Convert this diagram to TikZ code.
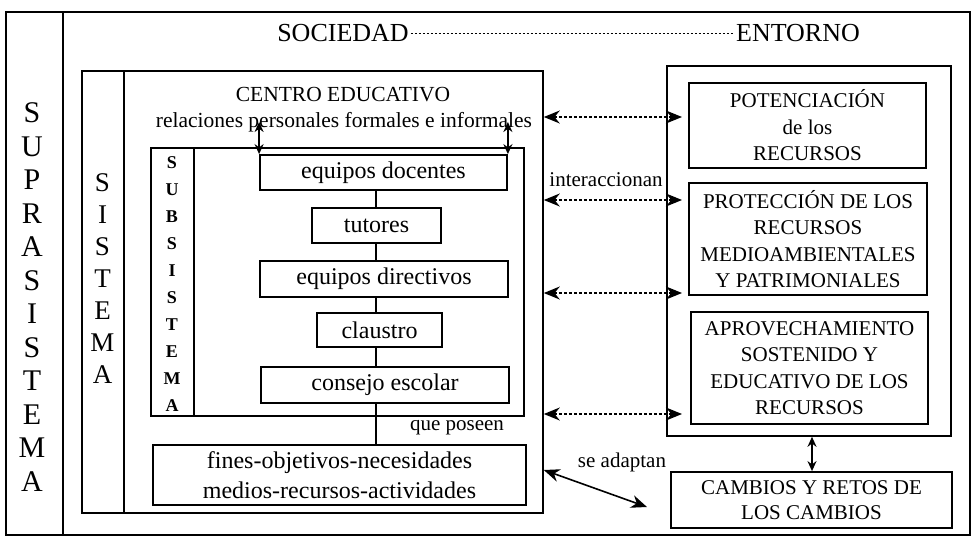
\documentclass[tikz,border=0pt]{standalone}
\usepackage{fontspec}
\setmainfont{Liberation Serif}
\usetikzlibrary{arrows.meta,positioning}

\tikzset{
  box/.style={draw, line width=1.8pt, fill=white, align=center, inner sep=1pt,
    font=\fontsize{24}{29}\selectfont},
  capsbox/.style={box, font=\fontsize{21}{26.5}\selectfont},
  frame/.style={draw, line width=1.8pt, inner sep=0pt, anchor=north west},
  link/.style={line width=1.8pt},
  twoway/.style={line width=1.9pt, {Stealth[length=10pt,width=9pt]}-{Stealth[length=10pt,width=9pt]}},
  bigway/.style={line width=1.6pt, {Stealth[length=16pt,width=13pt]}-{Stealth[length=16pt,width=13pt]}},
  dotway/.style={bigway, dash pattern=on 3pt off 2pt},
  tag/.style={font=\fontsize{21}{25}\selectfont, inner sep=1pt},
  column/.style={align=center, inner sep=0pt}
}

\begin{document}
\begin{tikzpicture}[x=1pt,y=-1pt]
\useasboundingbox (0,0) rectangle (975,539);

% frames
\node[frame, minimum width=964pt, minimum height=523pt] (supra) at (5,11) {};
\node[frame, minimum width=461pt, minimum height=442pt] (sistema) at (81,70) {};
\node[frame, minimum width=373pt, minimum height=268pt] (subsis) at (150,147) {};
\node[frame, minimum width=284pt, minimum height=370pt] (entorno) at (666,65) {};
\coordinate (cutA) at (63,0);
\coordinate (cutB) at (124,0);
\coordinate (cutC) at (194,0);
\draw[link] (cutA |- supra.north) -- (cutA |- supra.south);
\draw[link] (cutB |- sistema.north) -- (cutB |- sistema.south);
\draw[link] (cutC |- subsis.north) -- (cutC |- subsis.south);

% vertical words
\node[column, font=\fontsize{30}{33.5}\selectfont] (supraword) at (32,297)
  {S\\U\\P\\R\\A\\S\\I\\S\\T\\E\\M\\A};
\node[column, font=\fontsize{27}{32}\selectfont] (sistword) at (102.5,279)
  {S\\I\\S\\T\\E\\M\\A};
\node[column, font=\fontsize{18}{26.9}\selectfont\bfseries] (subword) at (172,284)
  {S\\U\\B\\S\\I\\S\\T\\E\\M\\A};

% top row
\node[font=\fontsize{26}{30}\selectfont, inner sep=2pt] (sociedad) at (343,33) {SOCIEDAD};
\node[font=\fontsize{26}{30}\selectfont, inner sep=2pt] (entornoword) at (798,33) {ENTORNO};
\draw[line width=0.9pt, dash pattern=on 2.5pt off 1.5pt] (sociedad.east) -- (entornoword.west);

% centro educativo
\node[font=\fontsize{21.5}{26}\selectfont] (centro) at (343,95) {CENTRO EDUCATIVO};
\node[font=\fontsize{21.5}{26}\selectfont, inner sep=0pt] (rel) at (344,122)
  {relaciones personales formales e informales};

\node[box, minimum width=247pt, minimum height=35pt] (docentes) at (383.5,172.5) {equipos docentes};
\node[box, minimum width=129pt, minimum height=35pt] (tutores) at (376.5,225.5) {tutores};
\node[box, minimum width=248pt, minimum height=36pt] (directivos) at (384,279) {equipos directivos};
\node[box, minimum width=125pt, minimum height=34pt] (claustro) at (379.5,330) {claustro};
\node[box, minimum width=248pt, minimum height=36pt] (consejo) at (385,385) {consejo escolar};
\node[box, minimum width=373pt, minimum height=60pt, font=\fontsize{24}{30}\selectfont] (fines)
  at (339.5,475) {fines-objetivos-necesidades\\medios-recursos-actividades};

\coordinate (spine) at (376,0);
\foreach \a/\b in {docentes/tutores,tutores/directivos,directivos/claustro,claustro/consejo,consejo/fines}
  \draw[link] (\a.south -| spine) -- (\b.north -| spine);

\draw[twoway] (docentes.north west) -- (docentes.north west |- rel.center);
\draw[twoway] (docentes.north east) -- (docentes.north east |- rel.center);

\node[tag] (quepos) at (457,428) {que poseen};

% entorno
\node[capsbox, minimum width=237pt, minimum height=85pt] (pot) at (807.5,125.5)
  {POTENCIACIÓN\\de los\\RECURSOS};
\node[capsbox, minimum width=238pt, minimum height=112pt] (prot) at (808,239)
  {PROTECCIÓN DE LOS\\RECURSOS\\MEDIOAMBIENTALES\\Y PATRIMONIALES};
\node[capsbox, minimum width=237pt, minimum height=112pt] (apro) at (809.5,368)
  {APROVECHAMIENTO\\SOSTENIDO Y\\EDUCATIVO DE LOS\\RECURSOS};
\node[capsbox, minimum width=281pt, minimum height=56pt, font=\fontsize{21}{25}\selectfont] (cambios)
  at (811.5,500) {CAMBIOS Y RETOS DE\\LOS CAMBIOS};

\coordinate (drop) at (812,0);
\draw[twoway] (entorno.south -| drop) -- (cambios.north -| drop);

% links between both sides
\foreach \y in {117,200,293,414}
  \draw[dotway, shorten >=-16pt] (sistema.east |- 0,\y) -- (entorno.west |- 0,\y);
\node[tag] (interacc) at (606,180) {interaccionan};

\coordinate (adaptend) at (647,507);
\draw[bigway] (sistema.east |- 0,470) -- (adaptend);
\node[tag] (adaptan) at (622,462) {se adaptan};
\end{tikzpicture}
\end{document}
